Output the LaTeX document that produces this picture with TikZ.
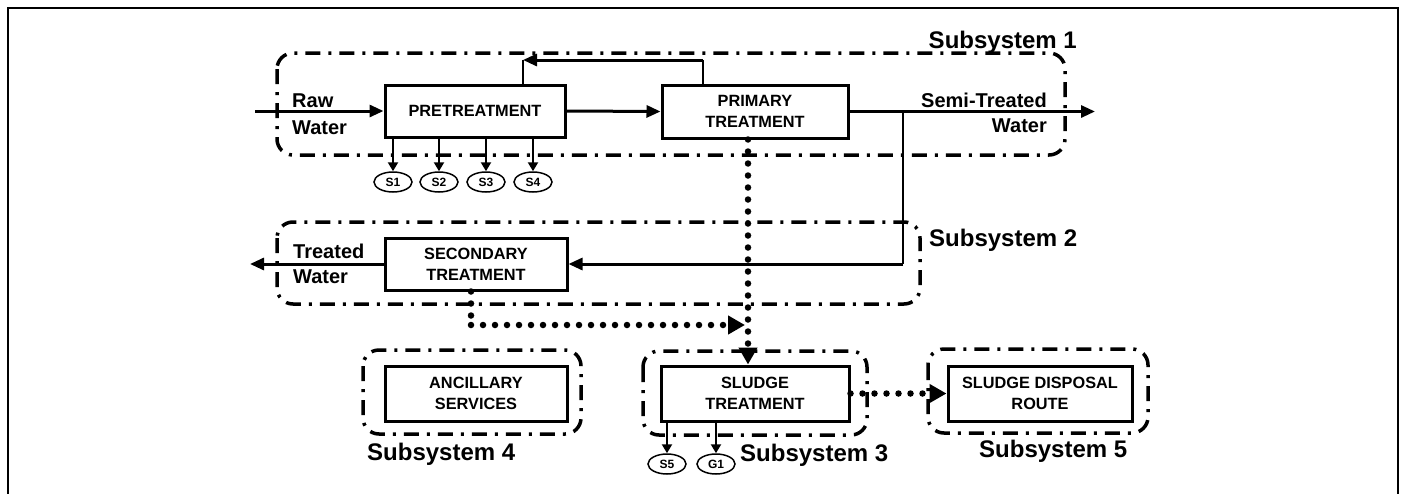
\documentclass[tikz,border=0pt]{standalone}
\usepackage{fontspec}
\setmainfont{Liberation Sans}
\usetikzlibrary{arrows.meta,shapes.geometric}
\begin{document}
\begin{tikzpicture}[x=1pt,y=-1pt,
  procbox/.style={draw,line width=3pt,align=center,inner sep=0pt,
    font=\fontsize{16.3}{21}\selectfont\bfseries},
  subframe/.style={line width=3.5pt,dash pattern=on 15pt off 8pt on 3pt off 8pt,rounded corners=16pt},
  sublabel/.style={font=\fontsize{24}{28}\selectfont\bfseries,inner sep=0pt},
  flowlabel/.style={font=\fontsize{20}{24}\selectfont\bfseries,inner sep=0pt},
  flow/.style={line width=3pt,-{Triangle[length=14pt,width=12pt]}},
  thinline/.style={line width=1.5pt},
  dotline/.style={line width=6.5pt,line cap=round,dash pattern=on 0pt off 12pt},
  dotarrow/.style={dotline,-{Triangle[length=17pt,width=18pt]}},
  outlet/.style={draw,ellipse,line width=1.5pt,minimum width=38pt,minimum height=20pt,inner sep=0pt,
    font=\fontsize{12}{14}\selectfont\bfseries},
  outarrow/.style={line width=2.2pt,-{Triangle[length=9pt,width=10pt]}}
]
\useasboundingbox (0,0) rectangle (1402,493);
\fill[white] (0,0) rectangle (1402,493);
% outer frame
\draw[line width=2pt] (8,520) -- (8,8) -- (1398,8) -- (1398,520);

% subsystem frames
\draw[subframe] (277,53) rectangle (1065,155);
\draw[subframe] (277,222) rectangle (920,304);
\draw[subframe] (363,350) rectangle (581,434);
\draw[subframe] (643,351) rectangle (867,435);
\draw[subframe] (928,349) rectangle (1148,433);

\node[sublabel,anchor=base east] (l1) at (1077,48) {Subsystem 1};
\node[sublabel,anchor=base west] (l2) at (929,246) {Subsystem 2};
\node[sublabel,anchor=base west] (l4) at (367,460) {Subsystem 4};
\node[sublabel,anchor=base west] (l3) at (740,461) {Subsystem 3};
\node[sublabel,anchor=base west] (l5) at (979,457) {Subsystem 5};

% process boxes
\node[procbox,minimum width=180pt,minimum height=52pt] (pre) at (475,111) {PRETREATMENT};
\node[procbox,minimum width=186pt,minimum height=53pt] (prim) at (755,111.5) {PRIMARY\\TREATMENT};
\node[procbox,minimum width=182pt,minimum height=52pt] (sec) at (476,264) {SECONDARY\\TREATMENT};
\node[procbox,minimum width=182pt,minimum height=55pt] (anc) at (476,393.5) {ANCILLARY\\SERVICES};
\node[procbox,minimum width=188pt,minimum height=55pt] (sl) at (755,393.5) {SLUDGE\\TREATMENT};
\node[procbox,minimum width=184pt,minimum height=55pt] (disp) at (1040,393.5) {SLUDGE DISPOSAL\\ROUTE};

% flow labels
\node[flowlabel,anchor=base west] (raw1) at (292,107) {Raw};
\node[flowlabel,anchor=base west] (raw2) at (292,134) {Water};
\node[flowlabel,anchor=base east] (semi1) at (1047,107) {Semi-Treated};
\node[flowlabel,anchor=base east] (semi2) at (1047,132) {Water};
\node[flowlabel,anchor=base west] (tr1) at (293,258) {Treated};
\node[flowlabel,anchor=base west] (tr2) at (293,283) {Water};

% main flows
\coordinate (rawin) at (255,111);
\coordinate (semiout) at (1095,111.5);
\coordinate (treatout) at (250,264);
\draw[flow] (rawin) -- (pre.west);
\draw[flow] (pre.east) -- (prim.west);
\draw[flow] (prim.east) -- (semiout);

% recycle
\coordinate (fbR) at (703,60);
\coordinate (fbL) at (523,60);
\draw[thinline] (prim.north -| fbR) -- (fbR);
\draw[flow] (fbR) -- (fbL);
\draw[thinline] (fbL) -- (pre.north -| fbL);

% to secondary
\coordinate (byT) at (903,111.5);
\coordinate (byB) at (903,264);
\draw[thinline] (byT) -- (byB);
\draw[flow] (byB) -- (sec.east);
\draw[flow] (sec.west) -- (treatout);

% sludge dotted flows
\coordinate (dx) at (748,0);
\draw[dotarrow] (prim.south -| dx) -- (sl.north -| dx);
\coordinate (sd) at (471,325);
\coordinate (sdEnd) at (745,325);
\draw[dotline] (sec.south -| sd) -- (sd);
\draw[dotarrow] (sd) -- (sdEnd);
\draw[dotarrow] (sl.east) -- (disp.west);

% outlets
\node[outlet] (s1) at (393,182) {S1};
\node[outlet] (s2) at (439,182) {S2};
\node[outlet] (s3) at (486,182) {S3};
\node[outlet] (s4) at (533,182) {S4};
\node[outlet] (s5) at (667,464) {S5};
\node[outlet] (g1) at (716,464) {G1};
\foreach \s in {s1,s2,s3,s4} \draw[outarrow] (pre.south -| \s) -- (\s.north);
\foreach \s in {s5,g1} \draw[outarrow] (sl.south -| \s) -- (\s.north);
\end{tikzpicture}
\end{document}
